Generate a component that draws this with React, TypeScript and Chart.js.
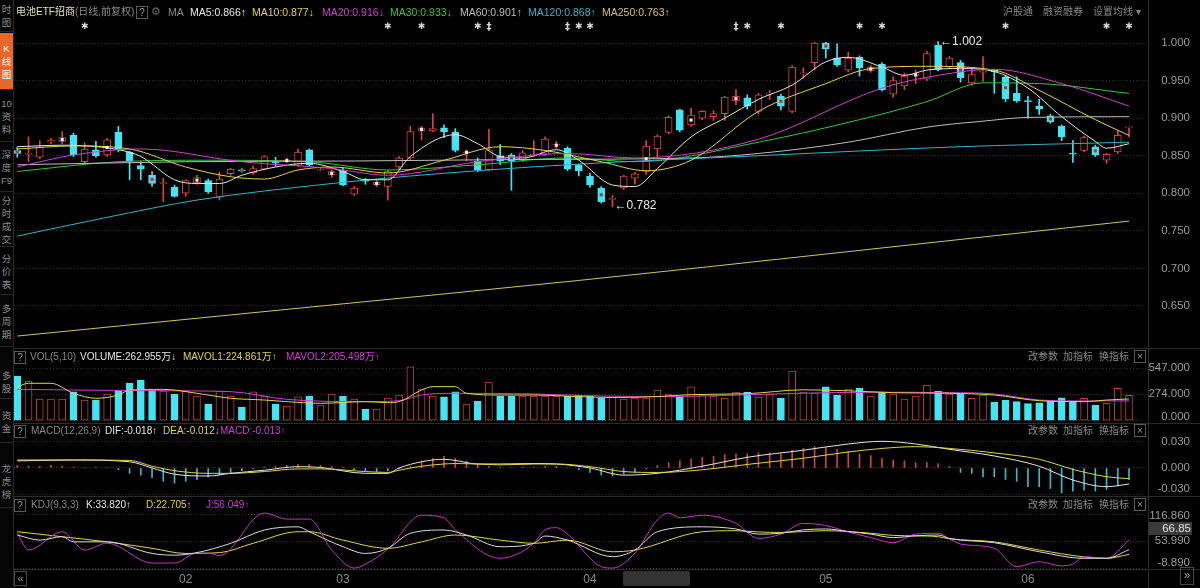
import React, { useEffect, useRef } from 'react';
import { Chart, registerables } from 'chart.js';

Chart.register(...registerables);

// ================= DATA =================
const opens = [
  0.857, 0.852, 0.848, 0.868, 0.869, 0.877, 0.842, 0.858, 0.851, 0.881,
  0.855, 0.837, 0.824, 0.813, 0.808, 0.800, 0.814, 0.817, 0.795, 0.826,
  0.831, 0.827, 0.832, 0.842, 0.843, 0.837, 0.858, 0.831, 0.824, 0.830,
  0.799, 0.818, 0.811, 0.809, 0.835, 0.847, 0.883, 0.883, 0.887, 0.881,
  0.854, 0.843, 0.831, 0.850, 0.851, 0.844, 0.851, 0.852, 0.864, 0.860,
  0.838, 0.823, 0.807, 0.792, 0.807, 0.820, 0.829, 0.859, 0.881, 0.911,
  0.891, 0.900, 0.902, 0.906, 0.923, 0.927, 0.909, 0.932, 0.929, 0.909,
  0.959, 0.974, 1.000, 0.980, 0.964, 0.981, 0.963, 0.972, 0.932, 0.943,
  0.957, 0.952, 0.997, 0.968, 0.974, 0.947, 0.961, 0.964, 0.955, 0.933,
  0.923, 0.916, 0.903, 0.889, 0.853, 0.857, 0.862, 0.844, 0.855, 0.887,
];
const highs = [
  0.861, 0.875, 0.870, 0.873, 0.882, 0.880, 0.867, 0.869, 0.873, 0.889,
  0.856, 0.842, 0.829, 0.820, 0.811, 0.818, 0.824, 0.819, 0.828, 0.833,
  0.833, 0.836, 0.850, 0.848, 0.847, 0.859, 0.859, 0.834, 0.831, 0.834,
  0.809, 0.820, 0.817, 0.831, 0.849, 0.889, 0.889, 0.906, 0.891, 0.886,
  0.858, 0.847, 0.885, 0.865, 0.853, 0.857, 0.870, 0.875, 0.869, 0.862,
  0.839, 0.827, 0.809, 0.797, 0.824, 0.828, 0.870, 0.878, 0.903, 0.912,
  0.913, 0.910, 0.910, 0.929, 0.938, 0.931, 0.933, 0.937, 0.932, 0.970,
  0.967, 1.001, 1.001, 0.999, 0.988, 0.983, 0.970, 0.974, 0.955, 0.960,
  0.964, 0.989, 1.002, 0.982, 0.977, 0.967, 0.982, 0.964, 0.956, 0.955,
  0.929, 0.925, 0.905, 0.891, 0.870, 0.876, 0.864, 0.853, 0.883, 0.888,
];
const lows = [
  0.848, 0.842, 0.846, 0.866, 0.866, 0.849, 0.840, 0.848, 0.849, 0.855,
  0.818, 0.818, 0.809, 0.789, 0.795, 0.796, 0.812, 0.800, 0.791, 0.824,
  0.828, 0.825, 0.831, 0.836, 0.841, 0.836, 0.836, 0.830, 0.821, 0.810,
  0.797, 0.812, 0.809, 0.791, 0.832, 0.845, 0.871, 0.882, 0.874, 0.855,
  0.843, 0.829, 0.830, 0.838, 0.804, 0.842, 0.849, 0.850, 0.860, 0.830,
  0.823, 0.808, 0.787, 0.782, 0.805, 0.812, 0.825, 0.848, 0.879, 0.882,
  0.889, 0.898, 0.897, 0.897, 0.918, 0.912, 0.906, 0.925, 0.911, 0.907,
  0.953, 0.964, 0.980, 0.969, 0.962, 0.956, 0.961, 0.936, 0.928, 0.938,
  0.946, 0.950, 0.963, 0.966, 0.948, 0.944, 0.949, 0.933, 0.922, 0.921,
  0.900, 0.905, 0.893, 0.870, 0.841, 0.855, 0.849, 0.840, 0.853, 0.875,
];
const closes = [
  0.853, 0.853, 0.862, 0.870, 0.874, 0.851, 0.859, 0.850, 0.871, 0.859,
  0.843, 0.832, 0.813, 0.814, 0.796, 0.817, 0.821, 0.802, 0.819, 0.832,
  0.830, 0.833, 0.849, 0.840, 0.844, 0.855, 0.838, 0.832, 0.829, 0.811,
  0.807, 0.816, 0.815, 0.829, 0.847, 0.882, 0.887, 0.886, 0.882, 0.857,
  0.855, 0.831, 0.858, 0.843, 0.843, 0.854, 0.852, 0.872, 0.864, 0.832,
  0.830, 0.811, 0.789, 0.793, 0.823, 0.826, 0.863, 0.876, 0.901, 0.884,
  0.904, 0.909, 0.906, 0.928, 0.929, 0.916, 0.931, 0.933, 0.916, 0.968,
  0.960, 1.000, 0.992, 0.971, 0.980, 0.967, 0.968, 0.938, 0.950, 0.956,
  0.958, 0.986, 0.965, 0.980, 0.954, 0.958, 0.962, 0.962, 0.926, 0.923,
  0.922, 0.912, 0.895, 0.875, 0.852, 0.874, 0.851, 0.852, 0.877, 0.888,
];
// volume in 万
const volumes = [
  464, 412, 225, 225, 225, 298, 214, 214, 277, 318,
  391, 422, 318, 308, 277, 308, 256, 173, 308, 256,
  141, 298, 256, 173, 152, 246, 256, 162, 277, 256,
  225, 121, 121, 235, 266, 560, 329, 256, 246, 298,
  173, 204, 401, 256, 256, 256, 256, 256, 256, 256,
  266, 256, 235, 245, 225, 235, 235, 318, 277, 245,
  350, 266, 256, 235, 297, 297, 245, 277, 235, 516,
  297, 287, 350, 266, 329, 339, 256, 297, 277, 225,
  256, 370, 308, 277, 277, 232, 266, 190, 211, 197,
  176, 186, 204, 238, 204, 232, 162, 180, 336, 263,
];
const markIdx = [0, 4, 8, 12, 16, 20, 24, 28, 32, 36, 40, 44, 48, 52, 56, 60, 64, 68, 72, 76, 80, 84, 88, 92, 96];
const starIdx = [6, 33, 36, 41, 50, 51, 65, 68, 75, 77, 88, 97, 99];
const daggerIdx = [42, 49, 64];

// moving averages: [candle index, value]
const ma5Pts = [[0, 0.862], [4, 0.864], [9, 0.858], [11, 0.849], [14, 0.818], [16, 0.813], [18, 0.813], [20, 0.824], [23, 0.835], [26, 0.840], [29, 0.829], [31, 0.818], [33, 0.818], [35, 0.849], [39, 0.878], [41, 0.866], [43, 0.849], [45, 0.847], [48, 0.858], [50, 0.844], [53, 0.811], [55, 0.809], [57, 0.833], [60, 0.875], [63, 0.900], [66, 0.925], [69, 0.944], [72, 0.975], [74, 0.981], [77, 0.968], [79, 0.957], [81, 0.964], [84, 0.966], [87, 0.962], [90, 0.940], [93, 0.902], [96, 0.869], [97, 0.860], [99, 0.866]];
const ma10Pts = [[0, 0.859], [5, 0.863], [10, 0.859], [15, 0.835], [19, 0.822], [22, 0.819], [25, 0.831], [28, 0.835], [33, 0.827], [38, 0.844], [43, 0.862], [47, 0.857], [52, 0.842], [56, 0.830], [60, 0.844], [66, 0.909], [72, 0.946], [76, 0.966], [81, 0.969], [87, 0.964], [91, 0.937], [96, 0.898], [99, 0.877]];
const ma20Pts = [[0, 0.835], [5, 0.851], [11, 0.859], [20, 0.842], [28, 0.833], [33, 0.824], [41, 0.842], [49, 0.853], [55, 0.847], [66, 0.872], [77, 0.940], [82, 0.957], [87, 0.965], [93, 0.946], [99, 0.916]];
const ma30Pts = [[0, 0.829], [9, 0.842], [17, 0.844], [26, 0.842], [33, 0.831], [41, 0.838], [49, 0.847], [55, 0.842], [66, 0.868], [75, 0.898], [81, 0.922], [86, 0.947], [91, 0.946], [99, 0.933]];
const ma60Pts = [[0, 0.838], [15, 0.842], [30, 0.843], [45, 0.845], [60, 0.847], [66, 0.853], [74, 0.868], [81, 0.888], [86, 0.896], [90, 0.901], [99, 0.902]];
const ma120Pts = [[0, 0.743], [8, 0.768], [16, 0.791], [28, 0.813], [35, 0.823], [49, 0.838], [66, 0.850], [84, 0.862], [99, 0.868]];
const ma250Pts = [[0, 0.610], [25, 0.647], [50, 0.684], [75, 0.724], [99, 0.763]];

const mavol1Pts = [[0, 353], [1, 388], [3, 388], [5, 284], [7, 232], [9, 266], [10, 318], [13, 325], [16, 284], [19, 232], [22, 214], [24, 197], [27, 180], [31, 197], [33, 187], [34, 197], [36, 318], [37, 353], [39, 353], [40, 284], [43, 266], [46, 266], [50, 249], [53, 240], [57, 250], [60, 270], [65, 280], [70, 320], [74, 310], [78, 290], [83, 284], [87, 266], [91, 207], [95, 197], [97, 214], [99, 225]];
const mavol2Pts = [[0, 325], [5, 318], [12, 311], [19, 301], [24, 221], [31, 197], [34, 207], [36, 266], [39, 284], [46, 277], [52, 256], [58, 250], [64, 265], [70, 285], [76, 295], [83, 291], [87, 277], [91, 214], [95, 204], [99, 205]];

const macdHist = [
  0.003, 0.002, 0.002, 0.003, 0.002, 0.001, 0.000, 0.001, 0.000, -0.002,
  -0.006, -0.008, -0.011, -0.015, -0.017, -0.015, -0.013, -0.010, -0.008, -0.006,
  -0.003, -0.001, 0.001, 0.002, 0.003, 0.004, 0.004, 0.003, 0.002, 0.001,
  -0.002, -0.003, -0.004, -0.003, -0.001, 0.002, 0.008, 0.011, 0.013, 0.011,
  0.008, 0.004, 0.002, 0.001, 0.000, 0.001, 0.001, 0.002, 0.002, 0.000,
  -0.002, -0.005, -0.008, -0.009, -0.007, -0.005, -0.001, 0.003, 0.006, 0.008,
  0.010, 0.012, 0.013, 0.015, 0.016, 0.016, 0.017, 0.017, 0.016, 0.020,
  0.022, 0.024, 0.023, 0.021, 0.019, 0.016, 0.014, 0.011, 0.009, 0.008,
  0.006, 0.006, 0.005, 0.002, -0.005, -0.006, -0.010, -0.010, -0.013, -0.015,
  -0.021, -0.021, -0.023, -0.028, -0.026, -0.025, -0.026, -0.024, -0.020, -0.013,
];
const difPts = [[0, 0.008], [5, 0.009], [10, 0.007], [12, 0.000], [14, -0.007], [17, -0.009], [19, -0.006], [22, -0.0025], [25, 0.0015], [27, 0.0006], [31, -0.006], [33, -0.006], [34, 0.000], [36, 0.007], [38, 0.0098], [39, 0.0085], [41, 0.0045], [43, 0.0045], [46, 0.005], [48, 0.0045], [51, 0.000], [54, -0.008], [57, -0.006], [61, 0.002], [65, 0.012], [70, 0.020], [74, 0.027], [77, 0.030], [80, 0.027], [83, 0.021], [87, 0.0135], [91, 0.002], [94, -0.0135], [97, -0.021], [99, -0.018]];
const deaPts = [[0, 0.009], [5, 0.009], [10, 0.0085], [12, 0.002], [14, -0.003], [17, -0.006], [19, -0.006], [22, -0.004], [25, -0.001], [27, -0.001], [31, -0.004], [33, -0.005], [34, -0.0025], [36, 0.002], [38, 0.0045], [39, 0.005], [41, 0.0045], [43, 0.0035], [46, 0.0045], [48, 0.0045], [51, 0.0015], [54, -0.004], [57, -0.005], [61, -0.002], [65, 0.004], [70, 0.011], [74, 0.018], [77, 0.022], [80, 0.024], [83, 0.022], [87, 0.017], [91, 0.0098], [94, -0.0015], [97, -0.0098], [99, -0.012]];

const kPts = [[0, 68], [2, 56], [4, 64], [5, 52], [8, 52], [12, 25], [14, 21], [16, 27], [19, 48.6], [22, 79.6], [25, 87], [26, 75.6], [29, 40.7], [31, 25], [33, 37], [35, 71.9], [38, 79.6], [40, 68], [43, 40.7], [46, 48.6], [47, 65.6], [49, 56], [53, 17.5], [55, 33], [57, 75.6], [61, 87], [64, 82], [66, 70], [68, 72], [70, 80], [72, 82], [74, 76], [76, 70], [78, 62], [80, 66], [82, 68], [83, 60], [87, 50], [91, 29], [95, 13.7], [97, 13.7], [99, 33.82]];
const dPts = [[0, 75.6], [4, 64], [8, 52], [12, 37], [15, 25], [18, 27], [21, 48.6], [25, 75.6], [26, 75.6], [29, 56], [33, 37], [36, 52], [39, 68], [43, 56], [46, 48.6], [49, 56], [53, 29], [55, 33], [61, 75.6], [64, 78], [66, 75], [68, 74], [70, 76], [72, 78], [74, 76], [76, 72], [78, 67], [80, 66], [82, 64], [83, 59], [87, 52], [91, 33], [95, 17], [97, 13.7], [99, 22.705]];
const jPts = [[0, 71.9], [1, 33], [4, 75.6], [6, 33], [8, 49], [12, 2.7], [14, 2.7], [16, 26], [17, 26], [18, 20], [22, 119], [24, 105], [26, 105], [28, 33], [30, -9], [31, 0], [33, 35], [36, 114], [38, 108], [39, 80], [43, 13.7], [45, 30], [46, 49], [47, 80], [48, 85], [49, 70], [52, -5.8], [53, -9], [55, 26], [57, 103], [58, 119], [59, 108], [61, 114], [64, 95], [66, 60], [68, 70], [70, 95], [72, 90], [74, 75], [76, 62], [78, 50], [80, 70], [82, 72], [83, 59], [84, 47], [87, 37], [89, -5.9], [91, 5.8], [93, -4.2], [94, 0.4], [95, 17.5], [97, 13.7], [99, 56.049]];

const priceTicks = [0.65, 0.7, 0.75, 0.8, 0.85, 0.9, 0.95, 1.0];
const volTicks = [0, 274, 547];
const macdTicks = [-0.03, 0, 0.03];
const kdjTicks = [-8.89, 53.99, 116.86];
const monthTicks = [15, 29, 51, 72, 90];
const monthLabels = ['02', '03', '04', '05', '06'];

const maNames = ['MA5', 'MA10', 'MA20', 'MA30', 'MA60', 'MA120', 'MA250'];
const maValues = [0.866, 0.877, 0.916, 0.933, 0.901, 0.868, 0.763];
const maUp = [true, false, false, false, true, true, true];
const volNames = ['VOLUME', 'MAVOL1', 'MAVOL2'];
const volValues = [262.955, 224.861, 205.498];
const volUp = [false, true, true];
const macdNames = ['DIF', 'DEA', 'MACD'];
const macdValues = [-0.018, -0.012, -0.013];
const macdUp = [true, false, true];
const kdjNames = ['K', 'D', 'J'];
const kdjValues = [33.82, 22.705, 56.049];
const kdjUp = [true, true, true];

// ================= STYLE =================
const C = {
  up: '#d8463f', down: '#44e4f2', volUp: '#b8463f', histUp: '#cc4444', histDown: '#3fb6c6',
  ma5: '#e6e6e6', ma10: '#e3d34b', ma20: '#cf3fcf', ma30: '#3cc23c', ma60: '#bdbdbd', ma120: '#39b2c6', ma250: '#d2c272',
  grid: '#2f2f2f', axis: '#9c9c9c', gray: '#8a8a8a', sep: '#2c2c2c',
};
const maColors = [C.ma5, C.ma10, C.ma20, C.ma30, C.ma60, C.ma120, C.ma250];
const FONT = '"Liberation Sans", "Noto Sans CJK SC", Arial, sans-serif';
const X_MIN = -0.294;
const X_MAX = 100.69;
const N = closes.length;
const idx = Array.from({ length: N }, (_, i) => i);
const isUp = (i: number) => closes[i] >= opens[i];

// ================= PLUGINS =================
const axisLabelPlugin = {
  id: 'axisLabels',
  afterDraw(chart: any, _a: any, opts: any) {
    const ys = chart.scales.y;
    const { top, bottom } = chart.chartArea;
    const ctx = chart.ctx;
    ctx.save();
    ctx.font = '11.5px ' + FONT;
    ctx.fillStyle = C.axis;
    ctx.textAlign = 'right';
    ctx.textBaseline = 'middle';
    ys.ticks.forEach((t: any) => {
      const py = Math.max(top + 5, Math.min(bottom - 6, ys.getPixelForValue(t.value)));
      ctx.fillText(Number(t.value).toFixed(3), opts.x, py);
    });
    ctx.restore();
  },
};

const markerPlugin = {
  id: 'priceMarkers',
  afterDraw(chart: any) {
    const xs = chart.scales.x;
    const ys = chart.scales.y;
    const ctx = chart.ctx;
    ctx.save();
    ctx.fillStyle = '#d6d6d6';
    ctx.textAlign = 'center';
    ctx.textBaseline = 'middle';
    ctx.font = '9px "DejaVu Sans", sans-serif';
    starIdx.forEach((i) => ctx.fillText('✱', xs.getPixelForValue(i), 9));
    ctx.font = 'bold 10px "DejaVu Sans", sans-serif';
    daggerIdx.forEach((i) => ctx.fillText('‡', xs.getPixelForValue(i), 9));
    const hi = highs.indexOf(Math.max(...highs));
    const lo = lows.indexOf(Math.min(...lows));
    ctx.font = '12px ' + FONT;
    ctx.fillStyle = '#e8e8e8';
    ctx.textAlign = 'left';
    ctx.fillText('←' + highs[hi].toFixed(3), xs.getPixelForValue(hi) + 2, ys.getPixelForValue(highs[hi]));
    ctx.fillText('←' + lows[lo].toFixed(3), xs.getPixelForValue(lo) + 2, ys.getPixelForValue(lows[lo]) - 1);
    ctx.restore();
  },
};

// ================= CHART HELPERS =================
function line(pts: number[][], color: string, order = 1) {
  return {
    type: 'line',
    data: pts.map(([x, y]) => ({ x, y })),
    borderColor: color,
    borderWidth: 1,
    pointRadius: 0,
    pointHoverRadius: 0,
    pointHitRadius: 0,
    cubicInterpolationMode: 'monotone',
    fill: false,
    order,
  };
}

function baseOptions(yMin: number, yMax: number, yTicks: number[], showX = false): any {
  const xHidden = { type: 'linear', min: X_MIN, max: X_MAX, display: false, offset: false };
  const xShown = {
    type: 'linear', min: X_MIN, max: X_MAX, display: true, position: 'bottom', offset: false,
    grid: { display: false, drawTicks: false }, border: { display: false },
    afterBuildTicks: (s: any) => { s.ticks = monthTicks.map((v) => ({ value: v })); },
    afterFit: (s: any) => { s.height = 19; },
    ticks: {
      autoSkip: false, maxRotation: 0, minRotation: 0, color: C.gray, padding: 3,
      font: { size: 12, family: FONT },
      callback: (v: any) => monthLabels[monthTicks.indexOf(Number(v))] ?? '',
    },
  };
  return {
    responsive: false,
    animation: false,
    devicePixelRatio: 1,
    events: [],
    layout: { padding: 0, autoPadding: false },
    plugins: { legend: { display: false }, tooltip: { enabled: false }, axisLabels: { x: 1176 } },
    scales: {
      x: showX ? xShown : xHidden,
      y: {
        type: 'linear', position: 'right', min: yMin, max: yMax,
        afterFit: (s: any) => { s.width = 52; },
        afterBuildTicks: (s: any) => { s.ticks = yTicks.map((v) => ({ value: v })); },
        ticks: { display: false },
        grid: { color: C.grid, drawTicks: false, lineWidth: 1 },
        border: { display: false, dash: [1, 2] },
      },
    },
  };
}

function mainConfig(): any {
  return {
    type: 'bar',
    data: {
      datasets: [
        {
          type: 'bar', data: idx.map((i) => ({ x: i, y: [lows[i], highs[i]] })),
          backgroundColor: idx.map((i) => (isUp(i) ? C.up : C.down)),
          borderWidth: 0, barThickness: 1, grouped: false, order: 6,
        },
        {
          type: 'bar', data: idx.map((i) => ({ x: i, y: [opens[i], closes[i]] })),
          backgroundColor: idx.map((i) => (isUp(i) ? '#000000' : C.down)),
          borderColor: idx.map((i) => (isUp(i) ? C.up : C.down)),
          borderWidth: 1, borderSkipped: false, barThickness: 7, minBarLength: 1, grouped: false, order: 5,
        },
        line(ma250Pts, C.ma250, 2),
        line(ma120Pts, C.ma120, 2),
        line(ma60Pts, C.ma60, 2),
        line(ma30Pts, C.ma30, 2),
        line(ma20Pts, C.ma20, 1),
        line(ma10Pts, C.ma10, 1),
        line(ma5Pts, C.ma5, 1),
        {
          type: 'line', showLine: false, order: 0,
          data: markIdx.map((i) => ({ x: i, y: (opens[i] + closes[i]) / 2 })),
          pointStyle: 'rect', pointRadius: 2.2, pointBorderWidth: 0, pointHoverRadius: 0,
          pointBackgroundColor: markIdx.map((i) => (isUp(i) ? '#eeeeee' : '#a83a36')),
        },
      ],
    },
    options: baseOptions(0.5941, 1.0333, priceTicks),
    plugins: [axisLabelPlugin, markerPlugin],
  };
}

function volConfig(): any {
  return {
    type: 'bar',
    data: {
      datasets: [
        {
          type: 'bar', data: idx.map((i) => ({ x: i, y: volumes[i] })),
          backgroundColor: idx.map((i) => (isUp(i) ? '#000000' : C.down)),
          borderColor: idx.map((i) => (isUp(i) ? C.volUp : C.down)),
          borderWidth: 1, borderSkipped: false, barThickness: 7, grouped: false, order: 5,
        },
        line(mavol1Pts, C.ma10, 1),
        line(mavol2Pts, C.ma20, 1),
      ],
    },
    options: baseOptions(-25, 599, volTicks),
    plugins: [axisLabelPlugin],
  };
}

function macdConfig(): any {
  return {
    type: 'bar',
    data: {
      datasets: [
        {
          type: 'bar', data: idx.map((i) => ({ x: i, y: macdHist[i] })),
          backgroundColor: idx.map((i) => (macdHist[i] >= 0 ? C.histUp : C.histDown)),
          borderWidth: 0, barThickness: 1, grouped: false, order: 5,
        },
        line(deaPts, C.ma10, 1),
        line(difPts, C.ma5, 1),
      ],
    },
    options: baseOptions(-0.03035, 0.03484, macdTicks),
    plugins: [axisLabelPlugin],
  };
}

function kdjConfig(): any {
  return {
    type: 'line',
    data: {
      datasets: [
        line(dPts, C.ma10, 2),
        line(kPts, '#dcdcdc', 1),
        line(jPts, '#c334c3', 1),
      ],
    },
    options: baseOptions(-11.2, 123.85, kdjTicks, true),
    plugins: [axisLabelPlugin],
  };
}

// ================= COMPONENTS =================
function Panel({ top, height, build }: { top: number; height: number; build: () => any }) {
  const ref = useRef<HTMLCanvasElement>(null);
  useEffect(() => {
    const chart = new Chart(ref.current as HTMLCanvasElement, build());
    return () => chart.destroy();
  }, []);
  return (
    <canvas
      ref={ref}
      width={1186}
      height={height}
      style={{ position: 'absolute', left: 14, top, width: 1186, height, display: 'block' }}
    />
  );
}

function T({ x, y, c, s = 10.5, children }: any) {
  return (
    <span style={{ position: 'absolute', left: x, top: y, color: c, fontSize: s, lineHeight: '14px', whiteSpace: 'nowrap' }}>
      {children}
    </span>
  );
}

function Box({ x, y, ch }: any) {
  return (
    <span
      style={{
        position: 'absolute', left: x, top: y, width: 10, height: 11, border: '1px solid #5a5a5a',
        color: '#9a9a9a', fontSize: 10, lineHeight: '11px', textAlign: 'center',
      }}
    >
      {ch}
    </span>
  );
}

function arrow(up: boolean) {
  return up ? '↑' : '↓';
}

function IndicatorButtons({ y }: { y: number }) {
  return (
    <>
      <T x={1028} y={y} c={C.gray} s={10}>改参数</T>
      <T x={1063} y={y} c={C.gray} s={10}>加指标</T>
      <T x={1099} y={y} c={C.gray} s={10}>换指标</T>
      <Box x={1134} y={y} ch="×" />
    </>
  );
}

const sideItems = [
  { top: 0, h: 31, t: ['时', '图'] },
  { top: 33, h: 56, t: ['K', '线', '图'], active: true },
  { top: 91, h: 50, t: ['10', '资', '料'] },
  { top: 143, h: 48, t: ['深', '度', 'F9'] },
  { top: 193, h: 53, t: ['分', '时', '成', '交'] },
  { top: 248, h: 46, t: ['分', '价', '表'] },
  { top: 296, h: 50, t: ['多', '周', '期'] },
  { top: 366, h: 32, t: ['多', '股'] },
  { top: 402, h: 40, t: ['资', '金'] },
  { top: 455, h: 52, t: ['龙', '虎', '榜'] },
];

export default function App() {
  const maLefts = [190, 252, 322, 390, 460, 528, 602];
  const volLefts = [80, 183, 286];
  const macdLefts = [105, 163, 220];
  const kdjLefts = [86, 146, 206];
  const triColors = [C.ma5, C.ma10, C.ma20];
  return (
    <div
      style={{
        position: 'fixed', left: 0, top: 0, width: 1200, height: 588, background: '#000',
        overflow: 'hidden', fontFamily: FONT,
      }}
    >
      {/* sidebar */}
      <div style={{ position: 'absolute', left: 0, top: 0, width: 13, height: 588, borderRight: '1px solid #2a2a2a', background: '#050505' }}>
        {sideItems.map((it, k) => (
          <div
            key={k}
            style={{
              position: 'absolute', left: 0, top: it.top, width: 13, height: it.h,
              background: it.active ? '#e8662c' : 'transparent', borderBottom: '1px solid #262626',
              display: 'flex', flexDirection: 'column', justifyContent: 'center', alignItems: 'center',
            }}
          >
            {it.t.map((ch, j) => (
              <div key={j} style={{ fontSize: 9.5, lineHeight: '13px', color: it.active ? '#fff' : '#8a8a8a', whiteSpace: 'nowrap' }}>{ch}</div>
            ))}
          </div>
        ))}
      </div>

      {/* separators */}
      <div style={{ position: 'absolute', left: 1148, top: 0, width: 1, height: 588, background: '#2e2e2e' }} />
      <div style={{ position: 'absolute', left: 14, top: 348, width: 1186, height: 1, background: C.sep }} />
      <div style={{ position: 'absolute', left: 14, top: 423, width: 1186, height: 1, background: C.sep }} />
      <div style={{ position: 'absolute', left: 14, top: 496, width: 1186, height: 1, background: C.sep }} />
      <div style={{ position: 'absolute', left: 14, top: 569, width: 1186, height: 1, background: C.sep }} />

      {/* charts */}
      <Panel top={18} height={330} build={mainConfig} />
      <Panel top={363} height={60} build={volConfig} />
      <Panel top={437} height={58} build={macdConfig} />
      <Panel top={511} height={77} build={kdjConfig} />

      {/* top header */}
      <T x={16} y={5} c="#e6e0c2" s={10}>电池ETF招商</T>
      <T x={75} y={5} c={C.gray} s={10}>(日线,前复权)</T>
      <Box x={136} y={6} ch="?" />
      <T x={151} y={4} c="#666" s={11}>⚙</T>
      <T x={168} y={5} c={C.gray}>MA</T>
      {maNames.map((n, k) => (
        <T key={n} x={maLefts[k]} y={5} c={maColors[k]}>
          {n}:{maValues[k].toFixed(3)}{arrow(maUp[k])}
        </T>
      ))}
      <T x={1003} y={5} c={C.gray} s={10}>沪股通</T>
      <T x={1043} y={5} c={C.gray} s={10}>融资融券</T>
      <T x={1093} y={5} c={C.gray} s={10}>设置均线 ▾</T>

      {/* VOL header */}
      <Box x={14} y={351} ch="?" />
      <T x={30} y={350} c={C.gray} s={10}>VOL(5,10)</T>
      {volNames.map((n, k) => (
        <T key={n} x={volLefts[k]} y={350} c={triColors[k]} s={10}>
          {n}:{volValues[k].toFixed(3)}万{arrow(volUp[k])}
        </T>
      ))}
      <IndicatorButtons y={350} />

      {/* MACD header */}
      <Box x={14} y={425} ch="?" />
      <T x={31} y={424} c={C.gray} s={10}>MACD(12,26,9)</T>
      {macdNames.map((n, k) => (
        <T key={n} x={macdLefts[k]} y={424} c={triColors[k]} s={10}>
          {n}:{macdValues[k].toFixed(3)}{arrow(macdUp[k])}
        </T>
      ))}
      <IndicatorButtons y={424} />

      {/* KDJ header */}
      <Box x={14} y={499} ch="?" />
      <T x={31} y={498} c={C.gray} s={10}>KDJ(9,3,3)</T>
      {kdjNames.map((n, k) => (
        <T key={n} x={kdjLefts[k]} y={498} c={triColors[k]} s={10}>
          {n}:{kdjValues[k].toFixed(3)}{arrow(kdjUp[k])}
        </T>
      ))}
      <IndicatorButtons y={498} />
      <div
        style={{
          position: 'absolute', left: 1149, top: 522, width: 42, height: 13, background: '#3a3a3a',
          color: '#e0e0e0', fontSize: 11.5, lineHeight: '13px', textAlign: 'right', paddingRight: 1,
        }}
      >
        66.85
      </div>

      {/* bottom strip */}
      <div
        style={{
          position: 'absolute', left: 14, top: 571, width: 11, height: 13, border: '1px solid #4a4a4a',
          color: '#9a9a9a', fontSize: 11, lineHeight: '12px', textAlign: 'center',
        }}
      >
        «
      </div>
      <div style={{ position: 'absolute', left: 623, top: 571, width: 67, height: 15, background: '#333', borderRadius: 2 }} />
      <div
        style={{
          position: 'absolute', left: 1180, top: 567, width: 12, height: 16, border: '1px solid #4a4a4a',
          color: '#9a9a9a', fontSize: 12, lineHeight: '15px', textAlign: 'center',
        }}
      >
        »
      </div>
    </div>
  );
}
